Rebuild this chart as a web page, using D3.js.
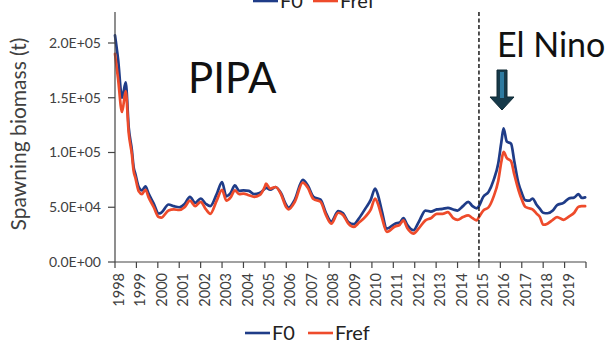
<!DOCTYPE html>
<html>
<head>
<meta charset="utf-8">
<script src="https://cdn.jsdelivr.net/npm/d3@7"></script>
<style>
  html, body { margin: 0; padding: 0; background: #fff; }
  svg { display: block; font-family: Lato, "Open Sans", sans-serif; }
</style>
</head>
<body>
<svg id="chart" width="616" height="344"></svg>
<script>
// Sampling times (decimal years)
const time = [
  1998.00, 1998.14, 1998.33, 1998.50, 1998.64, 1998.79, 1998.87, 1998.95, 1999.11, 1999.26,
  1999.42, 1999.57, 1999.81, 2000.04, 2000.16, 2000.50, 2000.75, 2001.00, 2001.25, 2001.50,
  2001.75, 2002.00, 2002.25, 2002.45, 2002.75, 2003.00, 2003.20, 2003.40, 2003.60, 2003.80,
  2004.00, 2004.25, 2004.50, 2004.75, 2005.00, 2005.05, 2005.25, 2005.50, 2005.75, 2006.00,
  2006.10, 2006.40, 2006.77, 2007.00, 2007.27, 2007.60, 2007.85, 2008.10, 2008.43, 2008.65,
  2008.90, 2009.15, 2009.40, 2009.70, 2009.95, 2010.15, 2010.30, 2010.46, 2010.70, 2011.08,
  2011.30, 2011.47, 2011.65, 2011.94, 2012.20, 2012.50, 2012.75, 2013.03, 2013.30, 2013.55,
  2013.80, 2014.00, 2014.25, 2014.50, 2014.70, 2014.90, 2015.00, 2015.20, 2015.45, 2015.68,
  2015.90, 2016.05, 2016.15, 2016.30, 2016.50, 2016.65, 2016.85, 2017.00, 2017.16, 2017.35,
  2017.50, 2017.70, 2017.85, 2018.00, 2018.20, 2018.45, 2018.65, 2018.95, 2019.20, 2019.45,
  2019.65, 2019.80, 2019.96
];

// Spawning biomass (t), no fishing
const f0 = [
  207000, 186000, 150000, 164000, 123000, 102000, 86600, 80600, 68400, 65400,
  69000, 62400, 53300, 44300, 45000, 52500, 51000, 50000, 53000, 59500,
  54000, 58000, 53000, 51000, 62000, 73000, 60000, 63000, 70000, 65000,
  65500, 65000, 62000, 63000, 67000, 68000, 66000, 68500, 63000, 52000,
  49500, 57000, 75000, 70000, 59500, 57000, 45000, 37000, 46500, 44500,
  36500, 34500, 40000, 49000, 57000, 67000, 60000, 47000, 30500, 35000,
  36000, 40000, 34000, 29000, 37000, 47000, 46000, 48000, 48500, 49500,
  48000, 47000, 51000, 55000, 51000, 49000, 51000, 59500, 64000, 74500,
  90000, 110000, 122000, 110000, 108000, 92000, 71500, 63000, 56500, 56000,
  58000, 52000, 48500, 45000, 44500, 47000, 52000, 54000, 58000, 59000,
  62000, 58500, 59000
];

// Spawning biomass (t), reference fishing mortality
const fref = [
  190000, 168000, 137000, 156000, 118000, 98000, 83000, 77000, 64500, 62000,
  66000, 59000, 50000, 41000, 40500, 47000, 48000, 47500, 50000, 56000,
  51000, 55000, 48000, 44000, 56000, 66000, 56000, 59000, 65500, 62000,
  62500, 61000, 59500, 61000, 69000, 71500, 67000, 68500, 62000, 50000,
  48000, 55000, 72500, 68000, 57500, 55000, 43000, 35000, 45000, 43000,
  35000, 32000, 36000, 41500, 48000, 58000, 52000, 41000, 27500, 32500,
  34000, 38000, 31000, 26000, 31000, 38000, 40000, 44000, 44000, 45500,
  40000, 38500, 41000, 42500, 40000, 38000, 41000, 47000, 50000, 59500,
  74000, 92000, 100500, 95000, 92000, 80000, 65500, 57000, 50500, 49000,
  48000, 44000, 41000, 34000, 35000, 38500, 41000, 38500, 41500, 45000,
  50500, 51000, 51000
];

const yTicks = [0, 50000, 100000, 150000, 200000];
const yTickLabels = ["0.0E+00", "5.0E+04", "1.0E+05", "1.5E+05", "2.0E+05"];
const yearTicks = d3.range(1998, 2021);
const yearLabels = d3.range(1998, 2020).map(String);
const seriesNames = ["F0", "Fref"];
const seriesColors = ["#1f3c88", "#ee4b2b"];
const elNinoYear = 2015;

const svg = d3.select("#chart");
const x = d3.scaleLinear().domain([1998, 2020]).range([115, 586]);
const y = d3.scaleLinear().domain([0, 200000]).range([262, 43]);
const plotTop = 12;
const axisColor = "#444";
const labelColor = "#404040";

// Series lines
const line = d3.line()
  .x((d, i) => x(time[i]))
  .y(d => y(d))
  .curve(d3.curveMonotoneX);

[f0, fref].forEach((vals, k) => {
  svg.append("path")
    .attr("d", line(vals))
    .attr("fill", "none")
    .attr("stroke", seriesColors[k])
    .attr("stroke-width", 2.7)
    .attr("stroke-linejoin", "round")
    .attr("stroke-linecap", "round");
});

// Y axis
svg.append("line")
  .attr("x1", x(1998)).attr("x2", x(1998))
  .attr("y1", plotTop).attr("y2", y(0))
  .attr("stroke", axisColor).attr("stroke-width", 1.2);

const yAxis = svg.append("g");
yTicks.forEach((v, i) => {
  yAxis.append("line")
    .attr("x1", x(1998) - 7).attr("x2", x(1998))
    .attr("y1", y(v)).attr("y2", y(v))
    .attr("stroke", axisColor).attr("stroke-width", 1.2);
  yAxis.append("text")
    .attr("x", x(1998) - 14)
    .attr("y", y(v))
    .attr("dy", "0.35em")
    .attr("text-anchor", "end")
    .attr("font-size", 14)
    .attr("fill", labelColor)
    .text(yTickLabels[i]);
});

// X axis
svg.append("line")
  .attr("x1", x(1998)).attr("x2", x(2020))
  .attr("y1", y(0)).attr("y2", y(0))
  .attr("stroke", axisColor).attr("stroke-width", 1.2);

const xAxis = svg.append("g");
yearTicks.forEach(t => {
  xAxis.append("line")
    .attr("x1", x(t)).attr("x2", x(t))
    .attr("y1", y(0)).attr("y2", y(0) + 6)
    .attr("stroke", axisColor).attr("stroke-width", 1.2);
});
yearLabels.forEach(lbl => {
  const px = x(+lbl) + 4, py = y(0) + 11;
  xAxis.append("text")
    .attr("transform", `translate(${px},${py}) rotate(-90)`)
    .attr("text-anchor", "end")
    .attr("dy", "0.35em")
    .attr("font-size", 14.5)
    .attr("fill", labelColor)
    .text(lbl);
});

// Y axis title
svg.append("text")
  .attr("transform", `translate(19,${134}) rotate(-90)`)
  .attr("text-anchor", "middle")
  .attr("dy", "0.35em")
  .attr("font-size", 21)
  .attr("fill", labelColor)
  .text("Spawning biomass (t)");

// El Nino marker line
svg.append("line")
  .attr("x1", x(elNinoYear)).attr("x2", x(elNinoYear))
  .attr("y1", plotTop).attr("y2", y(0))
  .attr("stroke", "#1a1a1a")
  .attr("stroke-width", 1.5)
  .attr("stroke-dasharray", "4,2.5");

// Annotations
svg.append("text")
  .attr("x", 188).attr("y", 93)
  .attr("font-size", 42)
  .attr("fill", "#111")
  .text("PIPA");

svg.append("text")
  .attr("x", 497).attr("y", 57)
  .attr("font-size", 34)
  .attr("fill", "#111")
  .text("El Nino");

// Down arrow pointing at the 2016 peak
const ax = 502;
const arrowPts = [
  [ax - 5, 70], [ax + 5, 70], [ax + 5, 97], [ax + 12, 97],
  [ax, 110], [ax - 12, 97], [ax - 5, 97]
];
svg.append("polygon")
  .attr("points", arrowPts.map(p => p.join(",")).join(" "))
  .attr("fill", "#163a4a")
  .attr("stroke", "#0e2833")
  .attr("stroke-width", 1);
svg.append("rect")
  .attr("x", ax - 2).attr("y", 72)
  .attr("width", 4).attr("height", 26)
  .attr("fill", "#2d7aa0");

// Legends (top one runs off the upper edge, bottom one below the axis)
function legend(y0, blueX, redX) {
  const g = svg.append("g");
  [blueX, redX].forEach((lx, k) => {
    g.append("line")
      .attr("x1", lx).attr("x2", lx + 25)
      .attr("y1", y0).attr("y2", y0)
      .attr("stroke", seriesColors[k])
      .attr("stroke-width", 2.6);
    g.append("text")
      .attr("x", lx + 27).attr("y", y0 + 7)
      .attr("font-size", 20)
      .attr("fill", "#222")
      .text(seriesNames[k]);
  });
}
legend(1, 253, 313);
legend(333, 245, 308);
</script>
</body>
</html>
